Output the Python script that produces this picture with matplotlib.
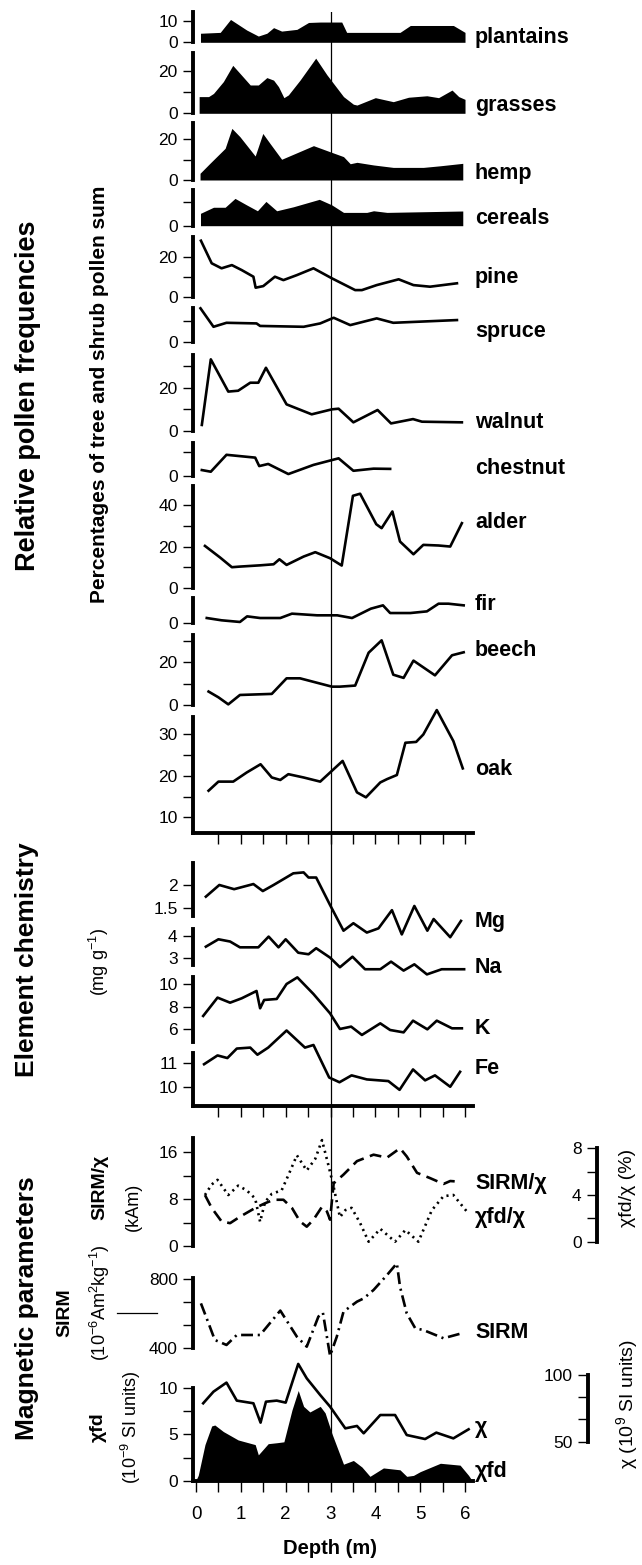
import numpy as np
import matplotlib
matplotlib.use("Agg")
import matplotlib.pyplot as plt
from matplotlib.lines import Line2D

plt.rcParams['font.family'] = ['Liberation Sans', 'DejaVu Sans']
plt.rcParams['mathtext.fontset'] = 'custom'
plt.rcParams['mathtext.rm'] = 'Liberation Sans'
plt.rcParams['mathtext.it'] = 'Liberation Sans:italic'
plt.rcParams['mathtext.bf'] = 'Liberation Sans:bold'

# ---- pollen (% of tree and shrub pollen sum) ----
plantains_d = [0.10, 0.54, 0.77, 1.13, 1.39, 1.58, 1.73, 1.91, 2.25, 2.51, 2.77, 3.25, 3.36, 4.55, 4.78, 5.74, 6.00]
plantains_v = [4.2, 4.6, 10.6, 5.7, 2.9, 4.2, 6.8, 5.2, 6.0, 9.2, 9.4, 9.4, 4.6, 4.6, 7.8, 7.8, 4.6]

grasses_d = [0.07, 0.28, 0.39, 0.61, 0.82, 0.98, 1.21, 1.39, 1.58, 1.73, 1.84, 1.96, 2.06, 2.32, 2.67, 2.92,
             3.29, 3.51, 3.59, 4.00, 4.40, 4.74, 5.15, 5.41, 5.71, 5.86, 6.00]
grasses_v = [7.9, 7.9, 9.4, 15.0, 22.7, 18.9, 13.4, 13.4, 16.9, 15.7, 12.6, 7.4, 8.7, 15.7, 26.1, 18.2,
             7.9, 4.3, 3.9, 7.4, 5.5, 7.6, 8.3, 7.4, 11.0, 7.9, 6.6]

hemp_d = [0.09, 0.31, 0.65, 0.80, 0.98, 1.32, 1.49, 1.65, 1.91, 2.25, 2.62, 2.99, 3.29, 3.44, 3.59, 3.96, 4.40, 5.07, 5.45, 5.95]
hemp_v = [3.3, 8.2, 15.6, 25.4, 21.3, 11.8, 22.9, 18.0, 10.2, 13.4, 16.9, 13.9, 11.5, 8.0, 8.7, 7.4, 6.2, 6.2, 7.0, 8.2]

cereals_d = [0.10, 0.39, 0.65, 0.87, 1.13, 1.37, 1.56, 1.80, 2.17, 2.75, 3.03, 3.29, 3.81, 3.96, 4.26, 5.95]
cereals_v = [5.3, 7.9, 7.9, 11.7, 8.9, 6.4, 10.4, 6.4, 8.1, 11.3, 8.9, 5.7, 5.7, 6.4, 5.7, 6.3]

pine_d = [0.11, 0.35, 0.57, 0.80, 1.02, 1.28, 1.33, 1.50, 1.76, 1.95, 2.25, 2.62, 3.03, 3.55, 3.70, 4.03, 4.52, 4.85, 5.22, 5.82]
pine_v = [28.0, 16.7, 14.2, 15.8, 13.3, 10.0, 4.5, 5.3, 10.0, 8.3, 10.8, 14.2, 9.2, 3.3, 3.3, 5.8, 8.7, 5.8, 5.0, 6.7]

spruce_d = [0.10, 0.39, 0.68, 1.35, 1.43, 2.40, 2.77, 3.07, 3.44, 4.03, 4.40, 5.82]
spruce_v = [15.9, 7.1, 9.0, 8.7, 7.5, 7.1, 8.7, 11.4, 7.9, 11.1, 9.0, 10.3]

walnut_d = [0.13, 0.33, 0.72, 0.94, 1.21, 1.39, 1.56, 2.02, 2.58, 3.03, 3.18, 3.51, 4.05, 4.35, 4.84, 5.04, 5.93]
walnut_v = [2.8, 33.1, 18.2, 18.6, 22.3, 22.3, 29.2, 12.3, 7.7, 10.0, 10.3, 4.0, 9.7, 3.5, 5.5, 4.3, 4.0]

chestnut_d = [0.13, 0.33, 0.68, 1.32, 1.41, 1.61, 2.06, 2.62, 3.18, 3.51, 3.96, 4.33]
chestnut_v = [2.4, 1.7, 8.9, 7.7, 4.1, 5.0, 0.7, 4.6, 7.4, 2.1, 3.0, 2.9]

alder_d = [0.20, 0.54, 0.80, 0.98, 1.43, 1.73, 1.86, 2.02, 2.40, 2.66, 2.99, 3.25, 3.50, 3.66, 3.85, 4.02,
           4.14, 4.38, 4.55, 4.85, 5.07, 5.41, 5.67, 5.93]
alder_v = [20.3, 14.7, 10.1, 10.4, 11.0, 11.5, 13.9, 11.2, 15.2, 17.3, 14.4, 10.9, 44.3, 45.3, 37.6, 30.7,
           28.8, 36.8, 22.4, 16.3, 20.8, 20.5, 20.0, 31.2]

fir_d = [0.24, 0.57, 0.98, 1.14, 1.43, 1.88, 2.14, 2.70, 3.15, 3.48, 3.90, 4.17, 4.33, 4.78, 5.15, 5.41, 5.63, 5.97]
fir_v = [2.4, 1.3, 0.5, 3.2, 2.4, 2.4, 4.5, 3.7, 3.7, 2.4, 6.9, 8.5, 4.8, 4.8, 5.6, 9.3, 9.3, 8.5]

beech_d = [0.28, 0.50, 0.72, 0.98, 1.69, 2.02, 2.32, 3.03, 3.21, 3.55, 3.85, 4.14, 4.40, 4.63, 4.85, 5.33, 5.71, 5.97]
beech_v = [6.3, 3.6, 0.3, 4.7, 5.2, 12.5, 12.5, 8.6, 8.6, 9.1, 24.5, 30.3, 14.2, 12.7, 20.8, 13.9, 23.3, 24.7]

oak_d = [0.28, 0.50, 0.83, 1.13, 1.44, 1.69, 1.88, 2.06, 2.40, 2.77, 3.03, 3.27, 3.59, 3.79, 4.11, 4.26,
         4.48, 4.67, 4.91, 5.07, 5.37, 5.74, 5.95]
oak_v = [16.4, 18.6, 18.6, 20.8, 22.8, 19.6, 19.0, 20.4, 19.6, 18.6, 21.2, 23.6, 16.0, 14.8, 18.4, 19.2,
         20.2, 28.0, 28.2, 30.0, 35.9, 28.4, 21.8]

# ---- element chemistry (mg g-1) ----
mg_d = [0.22, 0.52, 0.85, 1.28, 1.49, 1.73, 2.17, 2.40, 2.51, 2.68, 2.99, 3.29, 3.51, 3.81, 4.07, 4.37,
        4.59, 4.87, 5.16, 5.30, 5.67, 5.91]
mg_v = [1.75, 2.00, 1.91, 2.02, 1.87, 2.00, 2.25, 2.27, 2.16, 2.16, 1.57, 1.02, 1.18, 0.98, 1.07, 1.46,
        0.94, 1.55, 1.02, 1.27, 0.88, 1.23]

na_d = [0.22, 0.50, 0.76, 0.98, 1.39, 1.62, 1.84, 2.00, 2.28, 2.51, 2.68, 2.99, 3.21, 3.49, 3.77, 4.11,
        4.35, 4.63, 4.87, 5.15, 5.48, 5.98]
na_v = [3.52, 3.85, 3.75, 3.49, 3.49, 3.97, 3.49, 3.85, 3.25, 3.18, 3.45, 3.03, 2.60, 3.07, 2.51, 2.51,
        2.85, 2.45, 2.73, 2.28, 2.51, 2.51]

k_d = [0.16, 0.48, 0.76, 1.02, 1.35, 1.43, 1.52, 1.80, 2.02, 2.26, 2.62, 2.99, 3.21, 3.46, 3.70, 4.11,
       4.33, 4.63, 4.84, 5.16, 5.37, 5.71, 5.93]
k_v = [7.16, 8.79, 8.34, 8.73, 9.38, 7.84, 8.58, 8.67, 10.0, 10.59, 9.11, 7.39, 6.00, 6.21, 5.47, 6.50,
       5.91, 5.70, 6.74, 5.97, 6.74, 6.06, 6.06]

fe_d = [0.18, 0.48, 0.70, 0.91, 1.21, 1.37, 1.61, 2.02, 2.43, 2.62, 2.97, 3.20, 3.47, 3.81, 4.29, 4.54,
        4.84, 5.11, 5.33, 5.67, 5.89]
fe_v = [10.95, 11.32, 11.21, 11.61, 11.65, 11.35, 11.65, 12.37, 11.65, 11.76, 10.39, 10.19, 10.48, 10.31,
        10.24, 9.87, 10.73, 10.27, 10.48, 10.00, 10.63]

# ---- magnetic parameters ----
sirmchi_d = [0.20, 0.35, 0.57, 0.76, 0.98, 1.32, 1.54, 1.73, 1.95, 2.14, 2.32, 2.47, 2.62, 2.81, 2.92, 2.99,
             3.07, 3.29, 3.59, 3.96, 4.26, 4.55, 4.70, 4.93, 5.22, 5.52, 5.67, 5.86]
sirmchi_v = [8.7, 6.5, 4.2, 3.9, 5.0, 6.5, 7.3, 7.9, 7.9, 6.5, 4.2, 3.3, 4.5, 6.7, 5.9, 4.5,
             10.7, 12.2, 14.5, 15.6, 15.1, 16.7, 15.3, 12.5, 11.6, 10.6, 11.1, 11.0]

chifdchi_d = [0.20, 0.35, 0.48, 0.72, 0.94, 1.13, 1.32, 1.43, 1.54, 1.69, 1.91, 2.06, 2.25, 2.47, 2.66, 2.81,
              2.95, 3.07, 3.21, 3.33, 3.47, 3.66, 3.85, 4.11, 4.44, 4.67, 4.96, 5.26, 5.52, 5.74, 6.08]
chifdchi_v = [4.0, 4.9, 5.3, 4.0, 4.8, 4.4, 3.7, 1.7, 3.4, 4.1, 4.4, 5.7, 7.4, 6.1, 7.1, 8.7,
              6.6, 4.7, 2.1, 2.7, 2.9, 1.6, 0.0, 1.1, 0.0, 1.0, 0.0, 2.7, 3.9, 4.0, 2.4]

sirm_d = [0.11, 0.28, 0.42, 0.68, 0.91, 1.21, 1.43, 1.88, 2.25, 2.47, 2.73, 2.83, 2.99, 3.14, 3.29, 3.59,
          3.74, 3.96, 4.26, 4.48, 4.55, 4.70, 4.89, 5.07, 5.52, 5.93]
sirm_v = [658, 542, 445, 416, 474, 474, 474, 616, 464, 406, 581, 604, 353, 464, 610, 668,
          687, 736, 823, 891, 755, 600, 513, 503, 455, 484]

chi_d = [0.16, 0.39, 0.68, 0.91, 1.28, 1.44, 1.56, 1.80, 2.00, 2.28, 2.47, 2.77, 2.99, 3.33, 3.59, 3.74,
         4.11, 4.44, 4.70, 5.11, 5.36, 5.74, 6.08]
chi_v = [78.8, 87.5, 94.3, 80.8, 78.8, 64.3, 80.0, 80.8, 79.3, 108.3, 97.5, 85.0, 76.3, 60.0, 61.8, 56.3,
         70.0, 70.0, 55.0, 52.0, 56.8, 52.5, 59.3]

chifd_d = [0.00, 0.05, 0.20, 0.35, 0.42, 0.61, 0.94, 1.32, 1.39, 1.61, 1.80, 1.96, 2.14, 2.28, 2.40, 2.54,
           2.77, 2.88, 3.03, 3.29, 3.51, 3.70, 3.88, 4.18, 4.55, 4.70, 4.85, 5.00, 5.45, 5.89, 6.08, 6.15]
chifd_v = [0.1, 0.6, 3.9, 5.9, 6.0, 5.3, 4.4, 3.9, 2.8, 4.0, 4.1, 4.2, 7.6, 9.7, 8.0, 7.4,
           8.0, 7.3, 5.1, 1.8, 2.2, 1.5, 0.5, 1.4, 1.2, 0.5, 0.6, 1.0, 1.9, 1.7, 0.6, 0.1]

depth_minor = np.arange(0.5, 6.01, 0.5)
depth_all = np.arange(0, 6.01, 0.5)

# ---- layout helpers (pixel geometry of the 642 x 1565 page) ----
W, H = 642, 1565
XLIM = (-0.067, 6.178)
fig = plt.figure(figsize=(W / 100, H / 100), dpi=100)


def box(top, bottom, left=193, right=473):
    return [left / W, 1 - bottom / H, (right - left) / W, (bottom - top) / H]


def panel(top, bottom, ylim, yticks, ylabels, xticks=None, xlabels=False):
    ax = fig.add_axes(box(top, bottom))
    ax.set_xlim(XLIM)
    ax.set_ylim(ylim)
    ax.patch.set_visible(False)
    for s in ['top', 'right', 'bottom']:
        ax.spines[s].set_visible(False)
    ax.spines['left'].set_linewidth(2.8)
    ax.set_yticks(yticks)
    ax.set_yticklabels(ylabels)
    ax.tick_params(axis='y', length=7, width=1, pad=4, labelsize=12.5, direction='out')
    if xticks is None:
        ax.set_xticks([])
    else:
        ax.spines['bottom'].set_visible(True)
        ax.spines['bottom'].set_linewidth(2.8)
        ax.set_xticks(xticks)
        if xlabels:
            ax.set_xticklabels([f'{t:g}' if t == int(t) else '' for t in xticks])
        else:
            ax.set_xticklabels([])
        ax.tick_params(axis='x', length=8, width=1, pad=10, labelsize=13.5, direction='out')
    return ax


def bare(top, bottom, ylim, left=193, right=473):
    ax = fig.add_axes(box(top, bottom, left, right))
    ax.set_xlim(XLIM)
    ax.set_ylim(ylim)
    ax.patch.set_visible(False)
    ax.axis('off')
    return ax


def scale_axis(x, top, bottom, ylim, yticks, ylabels):
    ax = fig.add_axes(box(top, bottom, x, x + 1))
    ax.set_ylim(ylim)
    ax.patch.set_visible(False)
    for s in ['top', 'right', 'bottom']:
        ax.spines[s].set_visible(False)
    ax.spines['left'].set_linewidth(2.8)
    ax.set_xticks([])
    ax.set_yticks(yticks)
    ax.set_yticklabels(ylabels)
    ax.tick_params(axis='y', length=7, width=1, pad=4, labelsize=12.5, direction='out')
    return ax


# reference line at 3 m, behind everything
ref = bare(12, 1481, (0, 1))
ref.axvline(3, color='black', lw=0.9)

LW = 1.9
fillkw = dict(color='black', lw=0)

# ---- pollen ----
ax = panel(11.7, 42.3, (0, 14.2), [0, 10], ['0', '10'])
ax.fill_between(plantains_d, 0, plantains_v, **fillkw)
ax = panel(53.3, 113.3, (0, 28.4), [0, 10, 20], ['0', '', '20'])
ax.fill_between(grasses_d, 0, grasses_v, **fillkw)
ax = panel(123.3, 180, (0, 27.9), [0, 10, 20], ['0', '', '20'])
ax.fill_between(hemp_d, 0, hemp_v, **fillkw)
ax = panel(190, 225.7, (0, 15.3), [0, 10], ['0', ''])
ax.fill_between(cereals_d, 0, cereals_v, **fillkw)
ax = panel(236.7, 296.7, (0, 30), [0, 10, 20], ['0', '', '20'])
ax.plot(pine_d, pine_v, color='black', lw=LW, clip_on=False)
ax = panel(308.3, 341.7, (0, 15.9), [0, 10], ['0', ''])
ax.plot(spruce_d, spruce_v, color='black', lw=LW, clip_on=False)
ax = panel(355, 431, (0, 35.1), [0, 10, 20, 30], ['0', '', '20', ''])
ax.plot(walnut_d, walnut_v, color='black', lw=LW, clip_on=False)
ax = panel(443.3, 475.7, (0, 13.8), [0, 10], ['0', ''])
ax.plot(chestnut_d, chestnut_v, color='black', lw=LW, clip_on=False)
ax = panel(486, 588.3, (0, 49), [0, 10, 20, 30, 40], ['0', '', '20', '', '40'])
ax.plot(alder_d, alder_v, color='black', lw=LW, clip_on=False)
ax = panel(598.3, 623, (0, 11.9), [0], ['0'])
ax.plot(fir_d, fir_v, color='black', lw=LW, clip_on=False)
ax = panel(635, 705, (0, 32.8), [0, 10, 20, 30], ['0', '', '20', ''])
ax.plot(beech_d, beech_v, color='black', lw=LW, clip_on=False)
ax = panel(716.7, 833.3, (6.1, 34.3), [10, 15, 20, 25, 30], ['10', '', '20', '', '30'], xticks=depth_minor)
ax.plot(oak_d, oak_v, color='black', lw=LW, clip_on=False)

# ---- element chemistry ----
ax = panel(863.3, 916, (1.335, 2.465), [1.5, 2], ['1.5', '2'])
ax.plot(mg_d, mg_v, color='black', lw=LW, clip_on=False)
ax = panel(929, 965, (2.70, 4.31), [3, 4], ['3', '4'])
ax.plot(na_d, na_v, color='black', lw=LW, clip_on=False)
ax = panel(976.7, 1041.7, (4.87, 10.65), [6, 8, 10], ['6', '8', '10'])
ax.plot(k_d, k_v, color='black', lw=LW, clip_on=False)
ax = panel(1053.3, 1106, (9.19, 11.41), [10, 11], ['10', '11'], xticks=depth_minor)
ax.plot(fe_d, fe_v, color='black', lw=LW, clip_on=False)

# ---- magnetic parameters ----
ax = panel(1138.3, 1246, (0, 18.4), [0, 4, 8, 12, 16], ['0', '', '8', '', '16'])
ax.plot(sirmchi_d, sirmchi_v, color='black', lw=LW, clip_on=False, dashes=(4.5, 2.5))
ax = bare(1148.3, 1241.7, (0, 8))
ax.plot(chifdchi_d, chifdchi_v, color='black', lw=LW, clip_on=False, dashes=(0.8, 1.6))
scale_axis(597, 1148.3, 1241.7, (0, 8), [0, 2, 4, 6, 8], ['0', '', '4', '', '8'])

ax = panel(1278.3, 1347.7, (400, 804), np.linspace(400, 800, 4), ['400', '', '', '800'])
ax.plot(sirm_d, sirm_v, color='black', lw=LW, clip_on=False, dashes=(4.5, 1.8, 0.8, 1.8))

ax = bare(1375, 1441.7, (50, 100))
ax.plot(chi_d, chi_v, color='black', lw=LW, clip_on=False)
scale_axis(588, 1375, 1441.7, (50, 100), np.linspace(50, 100, 4), ['50', '', '', '100'])

ax = panel(1387.7, 1481, (0, 10), [0, 2.5, 5, 7.5, 10], ['0', '', '5', '', '10'], xticks=depth_all, xlabels=True)
ax.fill_between(chifd_d, 0, chifd_v, **fillkw)

# ---- text ----
def ftext(x, y, s, size, bold=False, rot=0, ha='center'):
    fig.text(x / W, 1 - y / H, s, fontsize=size, fontweight='bold' if bold else 'normal',
             rotation=rot, ha=ha, va='center')


series_labels = [('plantains', 37), ('grasses', 105), ('hemp', 173), ('cereals', 218), ('pine', 277),
                 ('spruce', 332), ('walnut', 423), ('chestnut', 468), ('alder', 523), ('fir', 605),
                 ('beech', 650), ('oak', 770), ('Mg', 921), ('Na', 968), ('K', 1028), ('Fe', 1069),
                 ('SIRM/χ', 1183), ('χfd/χ', 1217), ('SIRM', 1333), ('χ', 1428), ('χfd', 1472)]
for name, y in series_labels:
    ftext(475, y, name, 15.5, bold=True, ha='left')

ftext(28, 396, 'Relative pollen frequencies', 19.5, bold=True, rot=90)
ftext(100, 394, 'Percentages of tree and shrub pollen sum', 15, bold=True, rot=90)
ftext(27, 960, 'Element chemistry', 19, bold=True, rot=90)
ftext(99, 962, r'(mg g$^{-1}$)', 13, rot=90)
ftext(27, 1308, 'Magnetic parameters', 19, bold=True, rot=90)
ftext(100, 1187, 'SIRM/χ', 14, bold=True, rot=90)
ftext(133, 1207, '(kAm)', 13, rot=90)
ftext(65, 1313, 'SIRM', 14, bold=True, rot=90)
ftext(100, 1303, r'(10$^{-6}$Am$^{2}$kg$^{-1}$)', 13, rot=90)
ftext(98, 1427, 'χfd', 14, bold=True, rot=90)
ftext(131, 1428, r'(10$^{-9}$ SI units)', 13, rot=90)
ftext(627, 1188, 'χfd/χ (%)', 14, rot=90)
ftext(627, 1404, r'χ (10$^{9}$ SI units)', 14, rot=90)
ftext(330, 1548, 'Depth (m)', 14.5, bold=True)

fig.add_artist(Line2D([117 / W, 157 / W], [1 - 1313 / H, 1 - 1313 / H], color='black', lw=0.9))

fig.savefig('out.png', dpi=100)
